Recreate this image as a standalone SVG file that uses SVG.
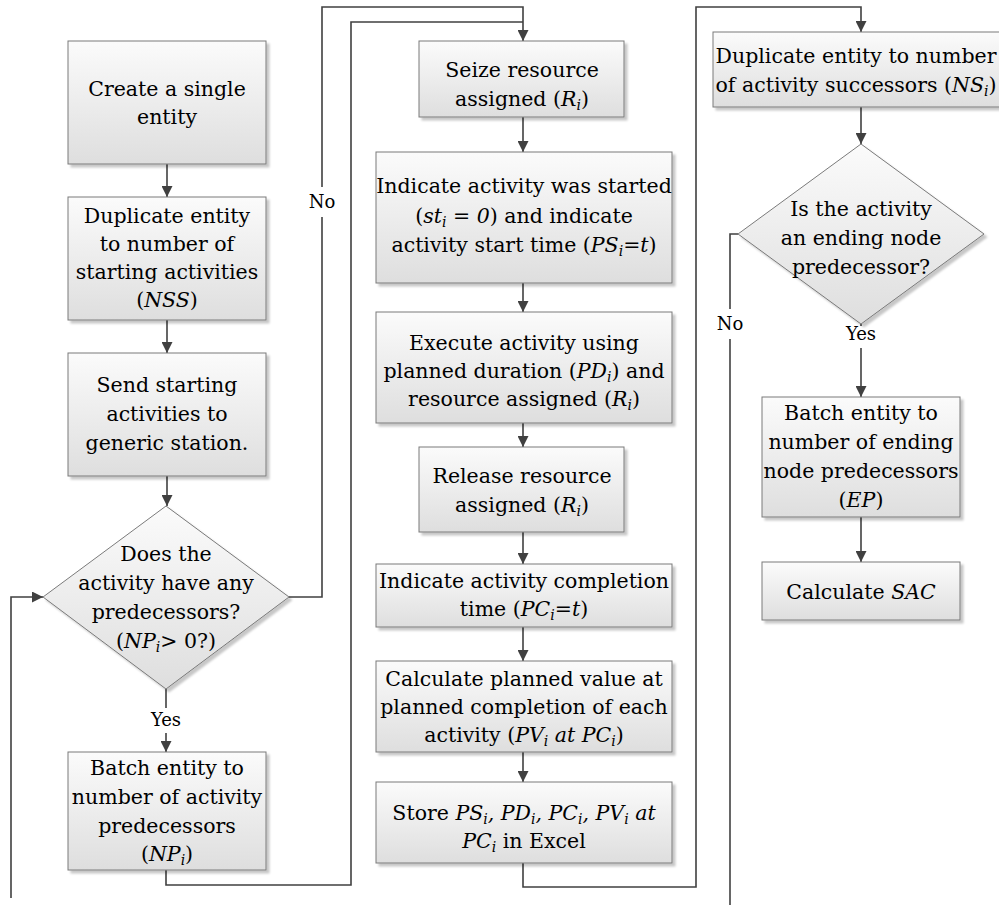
<svg xmlns="http://www.w3.org/2000/svg" width="999" height="909" viewBox="0 0 999 909">
  <defs>
    <linearGradient id="boxFill" x1="0" y1="0" x2="0" y2="1">
      <stop offset="0" stop-color="#fbfbfb"/>
      <stop offset="1" stop-color="#dedede"/>
    </linearGradient>
    <filter id="shadow" x="-10%" y="-10%" width="130%" height="130%">
      <feDropShadow dx="3" dy="3" stdDeviation="1.2" flood-color="#000" flood-opacity="0.22"/>
    </filter>
    <marker id="arrow" viewBox="0 0 10 10" refX="10" refY="5" markerWidth="11" markerHeight="11" markerUnits="userSpaceOnUse" orient="auto">
      <path d="M0,0 L10,5 L0,10 z" fill="#404040"/>
    </marker>
  </defs>
  <style>
    .box { fill: url(#boxFill); stroke: #7a7a7a; stroke-width: 1; filter: url(#shadow); }
    .conn { fill: none; stroke: #404040; stroke-width: 1.6; }
    .arr { marker-end: url(#arrow); }
    text { font-family: 'DejaVu Serif', serif; font-size: 20.5px; fill: #000; text-anchor: middle; }
    .it { font-style: italic; }
    .sub { font-size: 14px; }
    .lbl { font-size: 18px; }
  </style>

  <!-- connectors -->
  <g id="connectors">
    <path class="conn arr" d="M167,164 V197"/>
    <path class="conn arr" d="M167,320 V353"/>
    <path class="conn arr" d="M167,476 V506"/>
    <path class="conn" d="M166,689 V708"/>
    <path class="conn arr" d="M166,733 V752"/>
    <path class="conn" d="M289,597 H322 V217"/>
    <path class="conn arr" d="M322,187 V7 H523 V41"/>
    <path class="conn" d="M166,870 V885 H351 V22 H523"/>
    <path class="conn arr" d="M11,898 V597 H43"/>
    <path class="conn arr" d="M523,117 V152"/>
    <path class="conn arr" d="M523,283 V312"/>
    <path class="conn arr" d="M523,423 V447"/>
    <path class="conn arr" d="M523,532 V564"/>
    <path class="conn arr" d="M523,627 V661"/>
    <path class="conn arr" d="M523,752 V782"/>
    <path class="conn arr" d="M523,863 V887 H696 V7 H861 V32"/>
    <path class="conn arr" d="M861,107 V144"/>
    <path class="conn" d="M861,324 V326"/>
    <path class="conn arr" d="M861,348 V397"/>
    <path class="conn arr" d="M861,517 V562"/>
    <path class="conn" d="M738,234 H730 V309"/>
    <path class="conn" d="M730,339 V905"/>
    <text class="lbl" x="322" y="208">No</text>
    <text class="lbl" x="166" y="726">Yes</text>
    <text class="lbl" x="861" y="340">Yes</text>
    <text class="lbl" x="730" y="330">No</text>
  </g>

  <!-- left column -->
  <g id="create-entity">
    <rect class="box" x="68" y="41" width="198" height="123"/>
    <text x="167" y="96">Create a single</text>
    <text x="167" y="124">entity</text>
  </g>
  <g id="duplicate-start">
    <rect class="box" x="68" y="197" width="198" height="123"/>
    <text x="167" y="223">Duplicate entity</text>
    <text x="167" y="251">to number of</text>
    <text x="167" y="279">starting activities</text>
    <text x="167" y="307">(<tspan class="it">NSS</tspan>)</text>
  </g>
  <g id="send-start">
    <rect class="box" x="68" y="353" width="198" height="123"/>
    <text x="167" y="392">Send starting</text>
    <text x="167" y="421">activities to</text>
    <text x="167" y="450">generic station.</text>
  </g>
  <g id="has-predecessors">
    <polygon class="box" points="166,506 289,597 166,689 43,597"/>
    <text x="166" y="561">Does the</text>
    <text x="166" y="590">activity have any</text>
    <text x="166" y="619">predecessors?</text>
    <text x="166" y="648">(<tspan class="it">NP</tspan><tspan class="it sub" dy="4">i</tspan><tspan dy="-4">&gt; 0?)</tspan></text>
  </g>
  <g id="batch-predecessors">
    <rect class="box" x="68" y="752" width="198" height="118"/>
    <text x="167" y="775">Batch entity to</text>
    <text x="167" y="804">number of activity</text>
    <text x="167" y="833">predecessors</text>
    <text x="167" y="861">(<tspan class="it">NP</tspan><tspan class="it sub" dy="4">i</tspan><tspan dy="-4">)</tspan></text>
  </g>

  <!-- middle column -->
  <g id="seize">
    <rect class="box" x="419" y="41" width="205" height="76"/>
    <text x="522" y="77">Seize resource</text>
    <text x="522" y="106">assigned (<tspan class="it">R</tspan><tspan class="it sub" dy="4">i</tspan><tspan dy="-4">)</tspan></text>
  </g>
  <g id="mark-started">
    <rect class="box" x="376" y="152" width="296" height="131"/>
    <text x="524" y="193">Indicate activity was started</text>
    <text x="524" y="223">(<tspan class="it">st</tspan><tspan class="it sub" dy="4">i</tspan><tspan dy="-4"> = </tspan><tspan class="it">0</tspan>) and indicate</text>
    <text x="524" y="252">activity start time (<tspan class="it">PS</tspan><tspan class="it sub" dy="4">i</tspan><tspan class="it" dy="-4">=t</tspan>)</text>
  </g>
  <g id="execute">
    <rect class="box" x="376" y="312" width="296" height="111"/>
    <text x="524" y="350">Execute activity using</text>
    <text x="524" y="378">planned duration (<tspan class="it">PD</tspan><tspan class="it sub" dy="4">i</tspan><tspan dy="-4">) and</tspan></text>
    <text x="524" y="406">resource assigned (<tspan class="it">R</tspan><tspan class="it sub" dy="4">i</tspan><tspan dy="-4">)</tspan></text>
  </g>
  <g id="release">
    <rect class="box" x="419" y="447" width="205" height="85"/>
    <text x="522" y="483">Release resource</text>
    <text x="522" y="512">assigned (<tspan class="it">R</tspan><tspan class="it sub" dy="4">i</tspan><tspan dy="-4">)</tspan></text>
  </g>
  <g id="completion">
    <rect class="box" x="376" y="564" width="296" height="63"/>
    <text x="524" y="588">Indicate activity completion</text>
    <text x="524" y="616">time (<tspan class="it">PC</tspan><tspan class="it sub" dy="4">i</tspan><tspan class="it" dy="-4">=t</tspan>)</text>
  </g>
  <g id="planned-value">
    <rect class="box" x="376" y="661" width="296" height="91"/>
    <text x="524" y="686">Calculate planned value at</text>
    <text x="524" y="714">planned completion of each</text>
    <text x="524" y="742">activity (<tspan class="it">PV</tspan><tspan class="it sub" dy="4">i</tspan><tspan class="it" dy="-4"> at PC</tspan><tspan class="it sub" dy="4">i</tspan><tspan dy="-4">)</tspan></text>
  </g>
  <g id="store-excel">
    <rect class="box" x="376" y="782" width="296" height="81"/>
    <text x="524" y="820">Store <tspan class="it">PS</tspan><tspan class="it sub" dy="4">i</tspan><tspan class="it" dy="-4">, PD</tspan><tspan class="it sub" dy="4">i</tspan><tspan class="it" dy="-4">, PC</tspan><tspan class="it sub" dy="4">i</tspan><tspan class="it" dy="-4">, PV</tspan><tspan class="it sub" dy="4">i</tspan><tspan class="it" dy="-4"> at</tspan></text>
    <text x="524" y="848"><tspan class="it">PC</tspan><tspan class="it sub" dy="4">i</tspan><tspan dy="-4"> in Excel</tspan></text>
  </g>

  <!-- right column -->
  <g id="duplicate-successors">
    <rect class="box" x="713" y="32" width="296" height="75"/>
    <text x="856" y="63">Duplicate entity to number</text>
    <text x="856" y="92">of activity successors (<tspan class="it">NS</tspan><tspan class="it sub" dy="4">i</tspan><tspan dy="-4">)</tspan></text>
  </g>
  <g id="ending-predecessor">
    <polygon class="box" points="861,144 984,234 861,324 738,234"/>
    <text x="861" y="216">Is the activity</text>
    <text x="861" y="245">an ending node</text>
    <text x="861" y="274">predecessor?</text>
  </g>
  <g id="batch-ending">
    <rect class="box" x="762" y="397" width="198" height="120"/>
    <text x="861" y="420">Batch entity to</text>
    <text x="861" y="449">number of ending</text>
    <text x="861" y="478">node predecessors</text>
    <text x="861" y="507">(<tspan class="it">EP</tspan>)</text>
  </g>
  <g id="calc-sac">
    <rect class="box" x="762" y="562" width="198" height="58"/>
    <text x="861" y="599">Calculate <tspan class="it">SAC</tspan></text>
  </g>
</svg>
